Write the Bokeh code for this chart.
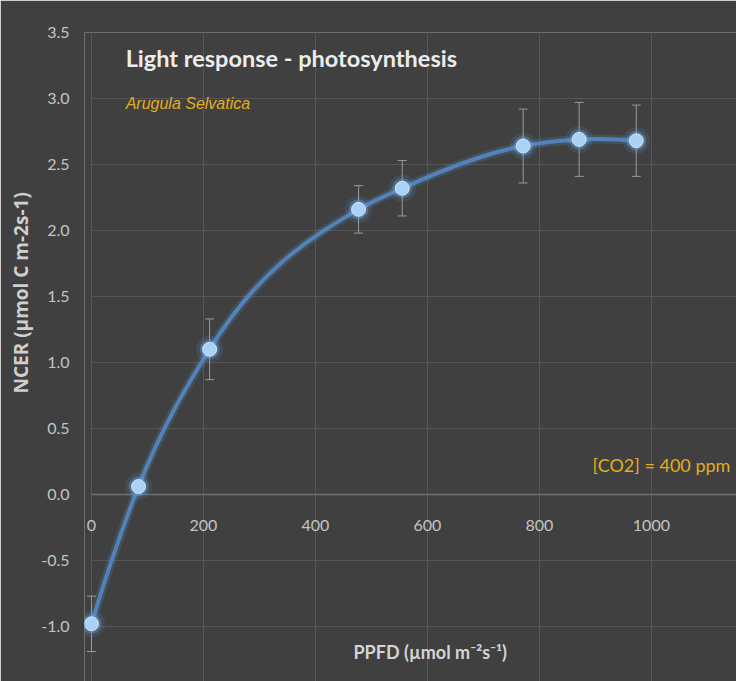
from bokeh.plotting import figure
from bokeh.models import (Label, Whisker, TeeHead, ColumnDataSource, FixedTicker,
                          NumeralTickFormatter, Range1d, Title, Grid)
from bokeh.embed import file_html
from bokeh.resources import INLINE

# ---- data ----
ppfd = [0, 84, 211, 477, 555, 771, 871, 973]
ncer = [-0.98, 0.06, 1.10, 2.16, 2.32, 2.64, 2.69, 2.68]
err = [0.21, 0.02, 0.23, 0.18, 0.21, 0.28, 0.28, 0.27]
x_ticks = [0, 200, 400, 600, 800, 1000]
y_ticks = [-1.0, -0.5, 0.0, 0.5, 1.0, 1.5, 2.0, 2.5, 3.0, 3.5]

title_txt = "Light response - photosynthesis"
subtitle_txt = "Arugula Selvatica"
note_txt = "[CO2] = 400 ppm"
x_title = "PPFD (µmol m\u207b\u00b2s\u207b\u00b9)"
y_title = "NCER (µmol C m-2s-1)"

BG = "#404040"
GRID = "#565656"
TICK = "#c4c4c4"
GOLD = "#e3ae1c"
FONT = "Lato"

X0 = -12.5  # a little room left of x=0 so the "0" tick label is not cut
XMAX = 1152
p = figure(width=736, height=681, output_backend="svg", toolbar_location=None,
           x_range=Range1d(X0, XMAX), y_range=Range1d(-1.417, 3.5),
           min_border_left=84, min_border_right=0, min_border_top=32, min_border_bottom=0)
p.background_fill_color = BG
p.border_fill_color = BG
p.outline_line_color = None

# axes
p.xaxis.fixed_location = 0
p.xaxis.ticker = FixedTicker(ticks=x_ticks)
p.xaxis.axis_line_color = None
p.xaxis.major_tick_line_color = None
p.xaxis.minor_tick_line_color = None
p.xaxis.major_label_standoff = 20
p.xaxis.major_label_text_font = FONT
p.xaxis.major_label_text_font_size = "16px"
p.xaxis.major_label_text_color = TICK

p.yaxis.ticker = FixedTicker(ticks=y_ticks)
p.yaxis.formatter = NumeralTickFormatter(format="0.0")
p.yaxis.axis_line_color = None
p.yaxis.major_tick_line_color = None
p.yaxis.minor_tick_line_color = None
p.yaxis.major_label_standoff = 9
p.yaxis.major_label_text_font = FONT
p.yaxis.major_label_text_font_size = "16px"
p.yaxis.major_label_text_color = TICK

p.xgrid.ticker = FixedTicker(ticks=x_ticks)
p.ygrid.ticker = FixedTicker(ticks=y_ticks)
p.grid.grid_line_color = GRID
p.grid.grid_line_width = 1

# horizontal grid lines start at x=0 in the reference
if "cross_bounds" in Grid.properties():
    p.ygrid.cross_bounds = (0, XMAX)
else:
    p.quad(left=[X0], right=[0], bottom=[-1.417], top=[3.5], fill_color=BG, line_color=None)

# horizontal axis line (y = 0), a little lighter than the grid
p.ray(x=[0], y=[0], length=0, angle=0, line_color="#707070", line_width=1.5)

# smooth curve: piecewise cubic Bezier through the data points (weighted tangents)
n = len(ppfd)
h = [ppfd[i + 1] - ppfd[i] for i in range(n - 1)]
d = [(ncer[i + 1] - ncer[i]) / h[i] for i in range(n - 1)]
m = [0.0] * n
for i in range(1, n - 1):
    m[i] = (h[i - 1] * d[i] + h[i] * d[i - 1]) / (h[i - 1] + h[i])
m[0] = 2 * d[0] - m[1]
m[-1] = 2 * d[-1] - m[-2]
bz = dict(x0=[], y0=[], x1=[], y1=[], cx0=[], cy0=[], cx1=[], cy1=[])
for i in range(n - 1):
    bz["x0"].append(ppfd[i]); bz["y0"].append(ncer[i])
    bz["x1"].append(ppfd[i + 1]); bz["y1"].append(ncer[i + 1])
    bz["cx0"].append(ppfd[i] + h[i] / 3); bz["cy0"].append(ncer[i] + m[i] * h[i] / 3)
    bz["cx1"].append(ppfd[i + 1] - h[i] / 3); bz["cy1"].append(ncer[i + 1] - m[i + 1] * h[i] / 3)
bsrc = ColumnDataSource(bz)
p.bezier(x0="x0", y0="y0", x1="x1", y1="y1", cx0="cx0", cy0="cy0", cx1="cx1", cy1="cy1",
         source=bsrc, line_color="#5b9bd5", line_width=9, line_alpha=0.18)
p.bezier(x0="x0", y0="y0", x1="x1", y1="y1", cx0="cx0", cy0="cy0", cx1="cx1", cy1="cy1",
         source=bsrc, line_color="#5282b8", line_width=4)

# error bars
src = ColumnDataSource(dict(x=ppfd, y=ncer,
                            upper=[v + e for v, e in zip(ncer, err)],
                            lower=[v - e for v, e in zip(ncer, err)]))
p.add_layout(Whisker(source=src, base="x", upper="upper", lower="lower",
                     line_color="#9a9a9a", line_width=1,
                     upper_head=TeeHead(size=9, line_color="#9a9a9a", line_width=1),
                     lower_head=TeeHead(size=9, line_color="#9a9a9a", line_width=1)))

# glowing markers
p.scatter("x", "y", source=src, size=27, fill_color="#5b9bd5", fill_alpha=0.15, line_color=None)
p.scatter("x", "y", source=src, size=20, fill_color="#6aaae6", fill_alpha=0.35, line_color=None)
p.scatter("x", "y", source=src, size=14, fill_color="#a9d2f6", line_color="#cfe6fb", line_width=1)

# texts
p.add_layout(Label(x=61, y=3.31, text=title_txt, text_font=FONT, text_font_style="bold",
                   text_font_size="23.5px", text_color="#ececec", text_baseline="middle"))
p.add_layout(Label(x=61, y=2.96, text=subtitle_txt, text_font="Liberation Sans",
                   text_font_style="italic", text_font_size="16px", text_color=GOLD,
                   text_baseline="middle"))
p.add_layout(Label(x=895, y=0.22, text=note_txt, text_font=FONT, text_font_size="18px",
                   text_color=GOLD, text_baseline="middle"))
p.add_layout(Label(x=605, y=-1.197, text=x_title, text_font=FONT, text_font_style="bold",
                   text_font_size="18px", text_color="#d4d4d4", text_baseline="middle",
                   text_align="center"))
p.add_layout(Title(text=y_title, align="left", offset=288, text_font="Open Sans",
                   text_font_style="bold", text_font_size="19px", text_color="#cfcfcf"),
             "left")

open("out.html", "w").write(file_html(p, INLINE))
